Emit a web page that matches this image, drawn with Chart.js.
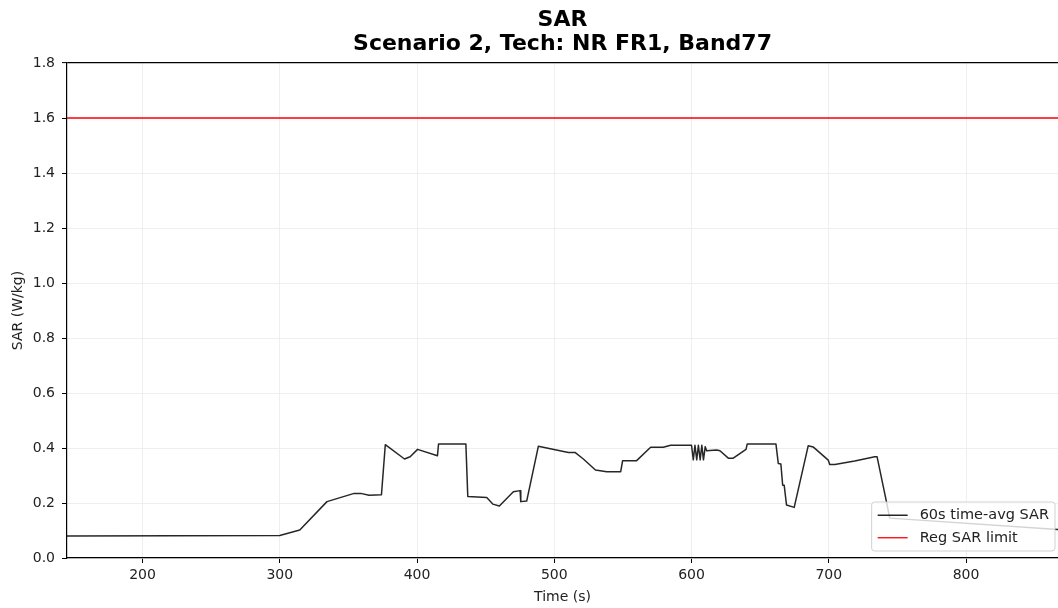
<!DOCTYPE html>
<html>
<head>
<meta charset="utf-8">
<script src="https://cdn.jsdelivr.net/npm/chart.js@4/dist/chart.umd.min.js"></script>
<style>
  html, body { margin: 0; padding: 0; background: #fff; }
  #wrap { width: 1058px; height: 608px; }
</style>
</head>
<body>
<div id="wrap"><canvas id="sarChart" width="1058" height="608"></canvas></div>
<script>
// time axis (s) and 60s averaged SAR (W/kg)
var times = [145, 300, 314.6, 334.4, 354.2, 359, 365.1, 374.1, 376.9, 390.9,
	395, 400.4, 414.9, 415.7, 435.6, 437, 450.8, 455.2, 460, 470.2,
	475.1, 475.6, 479.9, 488.4, 510.3, 515.1, 521.2, 530, 538.2, 548.4,
	549.8, 560, 570.2, 579.4, 584.8, 600, 601.3, 602.5, 603.8, 605,
	606.3, 607.5, 608.7, 610, 611, 618.3, 620.7, 626.8, 630.4, 639.7,
	640.6, 661.5, 663.2, 665.1, 666.4, 667.5, 669.2, 674.8, 685, 688.6,
	699.6, 700.7, 704.4, 718.9, 733.5, 735.2, 742, 744.4, 867];
var sarAvg = [0.08, 0.082, 0.102, 0.205, 0.235, 0.235, 0.228, 0.23, 0.412, 0.36,
	0.368, 0.395, 0.372, 0.415, 0.415, 0.224, 0.22, 0.196, 0.189, 0.241,
	0.245, 0.205, 0.207, 0.406, 0.384, 0.384, 0.36, 0.32, 0.314, 0.314,
	0.354, 0.354, 0.403, 0.403, 0.41, 0.41, 0.357, 0.41, 0.357, 0.41,
	0.357, 0.41, 0.357, 0.405, 0.39, 0.393, 0.39, 0.363, 0.363, 0.395,
	0.415, 0.415, 0.344, 0.342, 0.265, 0.265, 0.193, 0.184, 0.408, 0.404,
	0.356, 0.34, 0.34, 0.353, 0.368, 0.368, 0.205, 0.145, 0.104];
var sarLimit = 1.6;
var xRange = [145, 867];
var yTicks = [0, 0.2, 0.4, 0.6, 0.8, 1.0, 1.2, 1.4, 1.6, 1.8];
var xTicks = [200, 300, 400, 500, 600, 700, 800];

var FONT = "'DejaVu Sans', sans-serif";
Chart.defaults.font.family = FONT;
Chart.defaults.color = '#222';

var avgPoints = times.map(function(t, i) { return { x: t, y: sarAvg[i] }; });
var limitPoints = xRange.map(function(t) { return { x: t, y: sarLimit }; });

// legend box inside the axes, bottom right (matplotlib style)
var boxLegend = {
	id: 'boxLegend',
	afterDatasetsDraw: function(chart) {
		var ctx = chart.ctx, area = chart.chartArea;
		var sets = chart.data.datasets;
		ctx.save();
		ctx.font = '14.5px ' + FONT;
		var tw = 0;
		sets.forEach(function(d) { tw = Math.max(tw, ctx.measureText(d.label).width); });
		var rowH = 22.5, w = 6 + 30 + 12 + tw + 6, h = rowH * sets.length + 4;
		var x = area.right - 3 - w, y = area.bottom - 7 - h;
		ctx.beginPath();
		ctx.roundRect(x, y, w, h, 3);
		ctx.fillStyle = 'rgba(255,255,255,0.8)';
		ctx.fill();
		ctx.strokeStyle = 'rgba(204,204,204,0.9)';
		ctx.lineWidth = 1;
		ctx.stroke();
		sets.forEach(function(d, i) {
			var cy = y + 2 + rowH * (i + 0.5);
			ctx.beginPath();
			ctx.moveTo(x + 6, cy);
			ctx.lineTo(x + 36, cy);
			ctx.strokeStyle = d.borderColor;
			ctx.lineWidth = d.borderWidth;
			ctx.stroke();
			ctx.fillStyle = '#222';
			ctx.textBaseline = 'middle';
			ctx.fillText(d.label, x + 48, cy);
		});
		ctx.restore();
	}
};

var ctx = document.getElementById('sarChart').getContext('2d');
var chart = new Chart(ctx, {
	type: 'scatter',
	data: {
		datasets: [{
			label: '60s time-avg SAR',
			data: avgPoints,
			showLine: true,
			borderColor: 'rgba(0,0,0,0.85)',
			borderWidth: 1.5,
			borderJoinStyle: 'round',
			borderCapStyle: 'round',
			pointRadius: 0,
			tension: 0
		}, {
			label: 'Reg SAR limit',
			data: limitPoints,
			showLine: true,
			borderColor: '#ff0000',
			borderWidth: 1.3,
			pointRadius: 0
		}]
	},
	options: {
		responsive: false,
		animation: false,
		layout: { padding: { left: 0, right: 0, top: 0, bottom: 0 } },
		plugins: {
			legend: { display: false },
			tooltip: { enabled: false },
			title: {
				display: true,
				fullSize: false,
				text: ['SAR', 'Scenario 2, Tech: NR FR1, Band77'],
				color: '#000',
				font: { size: 22, weight: 'bold', lineHeight: 1.08 },
				padding: { top: 8.5, bottom: 7 }
			}
		},
		scales: {
			x: {
				type: 'linear',
				min: xRange[0],
				max: xRange[1],
				afterFit: function(s) { s.height = 50; },
				afterBuildTicks: function(s) { s.ticks = xTicks.map(function(v) { return { value: v }; }); },
				border: { display: true, color: '#000', width: 1.2 },
				grid: { color: '#ebebeb', lineWidth: 0.8, tickLength: 5, tickColor: '#000', tickWidth: 1 },
				ticks: { font: { size: 14 }, padding: 4, maxRotation: 0, color: '#222' },
				title: { display: true, text: 'Time (s)', font: { size: 14 }, padding: { top: 4, bottom: 2 }, color: '#222' }
			},
			y: {
				min: 0,
				max: 1.8,
				afterFit: function(s) { s.width = 67; },
				afterBuildTicks: function(s) { s.ticks = yTicks.map(function(v) { return { value: v }; }); },
				border: { display: true, color: '#000', width: 1.2 },
				grid: {
					color: function(c) { return c.tick && c.tick.value === 1.8 ? '#000' : '#ebebeb'; },
					lineWidth: function(c) { return c.tick && c.tick.value === 1.8 ? 1.2 : 0.8; },
					tickLength: 5, tickColor: '#000', tickWidth: 1
				},
				ticks: {
					font: { size: 14 }, padding: 7, color: '#222',
					callback: function(v) { return Number(v).toFixed(1); }
				},
				title: { display: true, text: 'SAR (W/kg)', font: { size: 14 }, padding: { top: 10, bottom: 0 }, color: '#222' }
			}
		}
	},
	plugins: [boxLegend]
});
</script>
</body>
</html>
